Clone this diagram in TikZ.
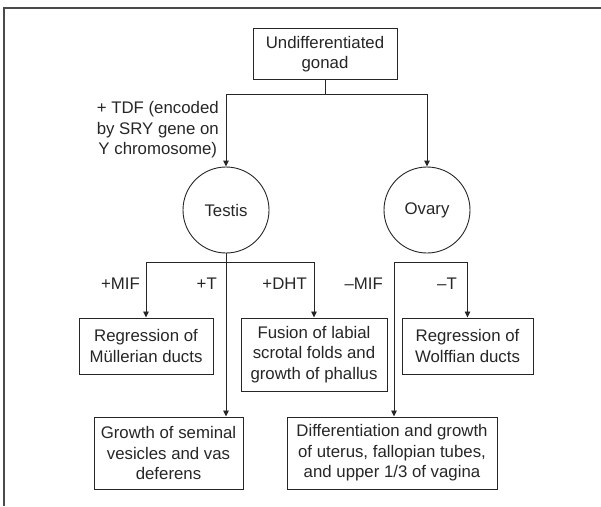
\documentclass[tikz,border=0pt]{standalone}
\usepackage{fontspec}
\setmainfont{Liberation Sans}
\usetikzlibrary{arrows.meta}
\definecolor{ink}{HTML}{262626}
\definecolor{rule}{HTML}{4a4a4a}
\begin{document}
\begin{tikzpicture}[x=1pt,y=-1pt,
  every node/.style={font=\fontsize{16.8}{20.4}\selectfont, text=ink},
  box/.style={draw=ink, line width=1pt, align=center, inner sep=0pt},
  organ/.style={draw=ink, line width=0.9pt, circle, minimum size=86pt, inner sep=0pt},
  lbl/.style={inner sep=0pt, anchor=east},
  link/.style={draw=ink, line width=0.9pt},
  arr/.style={link, -{Triangle[length=6pt,width=5.5pt]}},
]
\useasboundingbox (0,0) rectangle (601,506);

% open frame: top and left edges
\draw[line width=1.6pt, draw=rule] (601,8) -- (4,8) -- (4,506);

% nodes
\node[box, minimum width=144pt, minimum height=51pt] (gonad) at (325,54) {Undifferentiated\\gonad};
\node[organ] (testis) at (226,210) {Testis};
\node[organ] (ovary) at (427,210) {Ovary};
\node[box, minimum width=134pt, minimum height=56pt] (mull) at (146,346) {Regression of\\Müllerian ducts};
\node[box, minimum width=146pt, minimum height=73pt] (fus) at (314,354.5) {Fusion of labial\\scrotal folds and\\growth of phallus};
\node[box, minimum width=131pt, minimum height=56pt] (wolff) at (467.5,346) {Regression of\\Wolffian ducts};
\node[box, minimum width=149pt, minimum height=72pt] (sem) at (168.5,453) {Growth of seminal\\vesicles and vas\\deferens};
\node[box, minimum width=210pt, minimum height=72pt] (diff) at (392,453) {Differentiation and growth\\of uterus, fallopian tubes,\\and upper 1/3 of vagina};

% branch points
\coordinate (top) at (325,94);
\coordinate (tb) at (226,262.5);
\coordinate (ob) at (394,262.5);

% gonad split
\draw[link] (gonad.south) -- (top);
\draw[arr] (top) -| (testis.north);
\draw[arr] (top) -| (ovary.north);

% male branch
\draw[arr] (testis.south) -- (testis.south |- sem.north);
\draw[arr] (tb) -| (mull.north);
\draw[arr] (tb) -| (fus.north);

% female branch
\draw[arr] (ob) -| (wolff.north);
\draw[arr] (ob) -- (ob |- diff.north);

% labels
\node[lbl, align=center] (tdf) at (219,130) {+ TDF (encoded\\by SRY gene on\\Y chromosome)};
\node[lbl] (mif) at (140,284) {+MIF};
\node[lbl] (tlab) at (217,284) {+T};
\node[lbl] (dht) at (307,284) {+DHT};
\node[lbl] (nmif) at (383,284) {–MIF};
\node[lbl] (nt) at (457,284) {–T};
\end{tikzpicture}
\end{document}
